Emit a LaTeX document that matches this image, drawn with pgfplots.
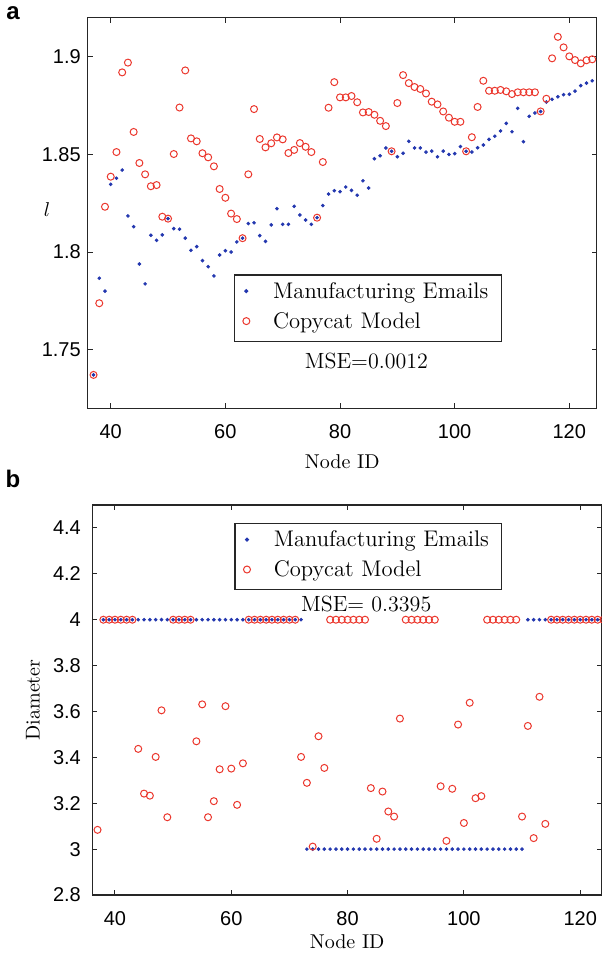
\documentclass[border=0pt]{standalone}
\usepackage{fontspec}
\usepackage{pgfplots}
\pgfplotsset{compat=1.18}
\newfontfamily\arialfont{Liberation Sans}
\definecolor{mblue}{RGB}{35,55,175}
\definecolor{mred}{RGB}{235,55,45}
\pgfplotsset{
 mystyle/.style={
  scale only axis,
  axis line style={black!85, line width=0.6pt},
  every tick/.style={black!85, line width=0.5pt},
  tick align=inside,
  major tick length=2.5pt,
  xtick pos=both, ytick pos=both,
  xticklabel pos=lower, yticklabel pos=left,
  /pgf/number format/assume math mode=true,
  tick label style={font=\arialfont\fontsize{10}{12}\selectfont},
  xticklabel style={yshift=-4.6pt},
  label style={font=\fontsize{11}{13}\selectfont},
  xlabel={Node ID},
  clip=false,
  legend cell align=left,
  legend image code/.code={\path (-5.75pt,0pt) (13.1pt,0pt); \draw[##1] plot coordinates {(0pt,1pt)};},
  legend style={draw=black!85, line width=0.6pt, inner xsep=0pt, inner ysep=1.6pt, row sep=0pt, column sep=0pt, font=\fontsize{11.3}{13}\selectfont, nodes={inner sep=0pt, text height=10pt, text depth=5pt, text width=114pt, anchor=west}, cells={anchor=west}},
 },
 blues/.style={only marks, mark=*, mark size=0.7pt, color=mblue, mark options={draw=none, fill=mblue}},
 reds/.style={only marks, mark=o, mark size=1.75pt, color=mred, mark options={line width=0.5pt}},
}
\pgfplotstableread{
x y
37 1.7371
38 1.7866
39 1.7800
40 1.8347
41 1.8378
42 1.8420
43 1.8185
44 1.8130
45 1.7939
46 1.7837
47 1.8086
48 1.8060
49 1.8088
50 1.8171
51 1.8120
52 1.8117
53 1.8071
54 1.8009
55 1.8028
56 1.7956
57 1.7925
58 1.7878
59 1.7985
60 1.8007
61 1.8000
62 1.8052
63 1.8071
64 1.8146
65 1.8150
66 1.8084
67 1.8055
68 1.8139
69 1.8222
70 1.8142
71 1.8142
72 1.8234
73 1.8190
74 1.8164
75 1.8142
76 1.8176
77 1.8238
78 1.8297
79 1.8314
80 1.8309
81 1.8333
82 1.8316
83 1.8291
84 1.8365
85 1.8328
86 1.8478
87 1.8493
88 1.8533
89 1.8516
90 1.8488
91 1.8506
92 1.8567
93 1.8533
94 1.8533
95 1.8512
96 1.8517
97 1.8488
98 1.8517
99 1.8500
100 1.8504
101 1.8540
102 1.8516
103 1.8512
104 1.8534
105 1.8548
106 1.8577
107 1.8593
108 1.8620
109 1.8659
110 1.8616
111 1.8736
112 1.8565
113 1.8695
114 1.8712
115 1.8720
116 1.8768
117 1.8782
118 1.8795
119 1.8806
120 1.8808
121 1.8824
122 1.8852
123 1.8865
124 1.8877
}\lemail
\pgfplotstableread{
x y
37 1.7371
38 1.7738
39 1.8232
40 1.8386
41 1.8512
42 1.8920
43 1.8970
44 1.8615
45 1.8456
46 1.8398
47 1.8337
48 1.8343
49 1.8181
50 1.8171
51 1.8502
52 1.8740
53 1.8930
54 1.8582
55 1.8567
56 1.8506
57 1.8485
58 1.8439
59 1.8323
60 1.8278
61 1.8197
62 1.8169
63 1.8071
64 1.8398
65 1.8732
66 1.8579
67 1.8536
68 1.8557
69 1.8587
70 1.8577
71 1.8507
72 1.8523
73 1.8558
74 1.8539
75 1.8512
76 1.8176
77 1.8461
78 1.8739
79 1.8870
80 1.8792
81 1.8792
82 1.8799
83 1.8767
84 1.8715
85 1.8717
86 1.8703
87 1.8672
88 1.8645
89 1.8516
90 1.8763
91 1.8906
92 1.8865
93 1.8845
94 1.8835
95 1.8812
96 1.8770
97 1.8756
98 1.8720
99 1.8688
100 1.8667
101 1.8667
102 1.8516
103 1.8588
104 1.8743
105 1.8877
106 1.8826
107 1.8826
108 1.8830
109 1.8823
110 1.8809
111 1.8818
112 1.8818
113 1.8818
114 1.8818
115 1.8720
116 1.8785
117 1.8992
118 1.9102
119 1.9048
120 1.9002
121 1.8983
122 1.8966
123 1.8982
124 1.8987
}\lcopy
\pgfplotstableread{
x y
38 4
39 4
40 4
41 4
42 4
43 4
44 4
45 4
46 4
47 4
48 4
49 4
50 4
51 4
52 4
53 4
54 4
55 4
56 4
57 4
58 4
59 4
60 4
61 4
62 4
63 4
64 4
65 4
66 4
67 4
68 4
69 4
70 4
71 4
72 4
73 3
74 3
75 3
76 3
77 3
78 3
79 3
80 3
81 3
82 3
83 3
84 3
85 3
86 3
87 3
88 3
89 3
90 3
91 3
92 3
93 3
94 3
95 3
96 3
97 3
98 3
99 3
100 3
101 3
102 3
103 3
104 3
105 3
106 3
107 3
108 3
109 3
110 3
111 4
112 4
113 4
114 4
115 4
116 4
117 4
118 4
119 4
120 4
121 4
122 4
123 4
124 4
}\demail
\pgfplotstableread{
x y
37 3.084
38 4
39 4
40 4
41 4
42 4
43 4
44 3.437
45 3.242
46 3.233
47 3.402
48 3.605
49 3.139
50 4
51 4
52 4
53 4
54 3.470
55 3.631
56 3.139
57 3.209
58 3.348
59 3.623
60 3.351
61 3.193
62 3.374
63 4
64 4
65 4
66 4
67 4
68 4
69 4
70 4
71 4
72 3.402
73 3.289
74 3.011
75 3.492
76 3.354
77 4
78 4
79 4
80 4
81 4
82 4
83 4
84 3.266
85 3.045
86 3.251
87 3.164
88 3.142
89 3.569
90 4
91 4
92 4
93 4
94 4
95 4
96 3.274
97 3.036
98 3.263
99 3.543
100 3.114
101 3.638
102 3.222
103 3.231
104 4
105 4
106 4
107 4
108 4
109 4
110 3.142
111 3.537
112 3.048
113 3.664
114 3.110
115 4
116 4
117 4
118 4
119 4
120 4
121 4
122 4
123 4
124 4
}\dcopy
\begin{document}
\begin{tikzpicture}
\path[use as bounding box] (0,0) rectangle (300.5pt,-478.5pt);
\node[font=\arialfont\bfseries\fontsize{12}{14}\selectfont] at (6.5pt,-6.5pt) {a};
\node[font=\arialfont\bfseries\fontsize{12}{14}\selectfont] at (6.5pt,-239.5pt) {b};
\begin{axis}[mystyle,
  at={(43.9pt,-8.85pt)}, anchor=north west,
  width=254.45pt, height=195.3pt,
  xmin=36, xmax=124.78, ymin=1.72, ymax=1.92,
  xtick={40,60,80,100,120},
  ytick={1.75,1.8,1.85,1.9},
  ylabel={$l$},
  every axis y label/.style={at={(axis description cs:-0.08,0.508)}, anchor=center},
  every axis x label/.style={at={(axis description cs:0.5,-0.1375)}, anchor=center},
  legend style={at={(axis description cs:0.2866,0.343)}, anchor=north west},
]
\addplot[blues] table {\lemail};
\addlegendentry{Manufacturing Emails}
\addplot[reds] table {\lcopy};
\addlegendentry{Copycat Model}
\node[font=\fontsize{11}{13}\selectfont] at (axis cs:84.6,1.744) {MSE=0.0012};
\end{axis}
\begin{axis}[mystyle,
  at={(46.15pt,-252.5pt)}, anchor=north west,
  width=254.85pt, height=195pt,
  xmin=36.1, xmax=123.75, ymin=2.8, ymax=4.5,
  xtick={40,60,80,100,120},
  ytick={2.8,3,3.2,3.4,3.6,3.8,4,4.2,4.4},
  yticklabel style={xshift=-2.2pt},
  ylabel={Diameter},
  every axis y label/.style={at={(axis description cs:-0.1163,0.5)}, anchor=center, rotate=90},
  every axis x label/.style={at={(axis description cs:0.5,-0.1205)}, anchor=center},
  legend style={at={(axis description cs:0.2786,0.9546)}, anchor=north west},
]
\addplot[blues] table {\demail};
\addlegendentry{Manufacturing Emails}
\addplot[reds] table {\dcopy};
\addlegendentry{Copycat Model}
\node[font=\fontsize{11}{13}\selectfont] at (axis cs:83.2,4.068) {MSE= 0.3395};
\end{axis}
\end{tikzpicture}
\end{document}
